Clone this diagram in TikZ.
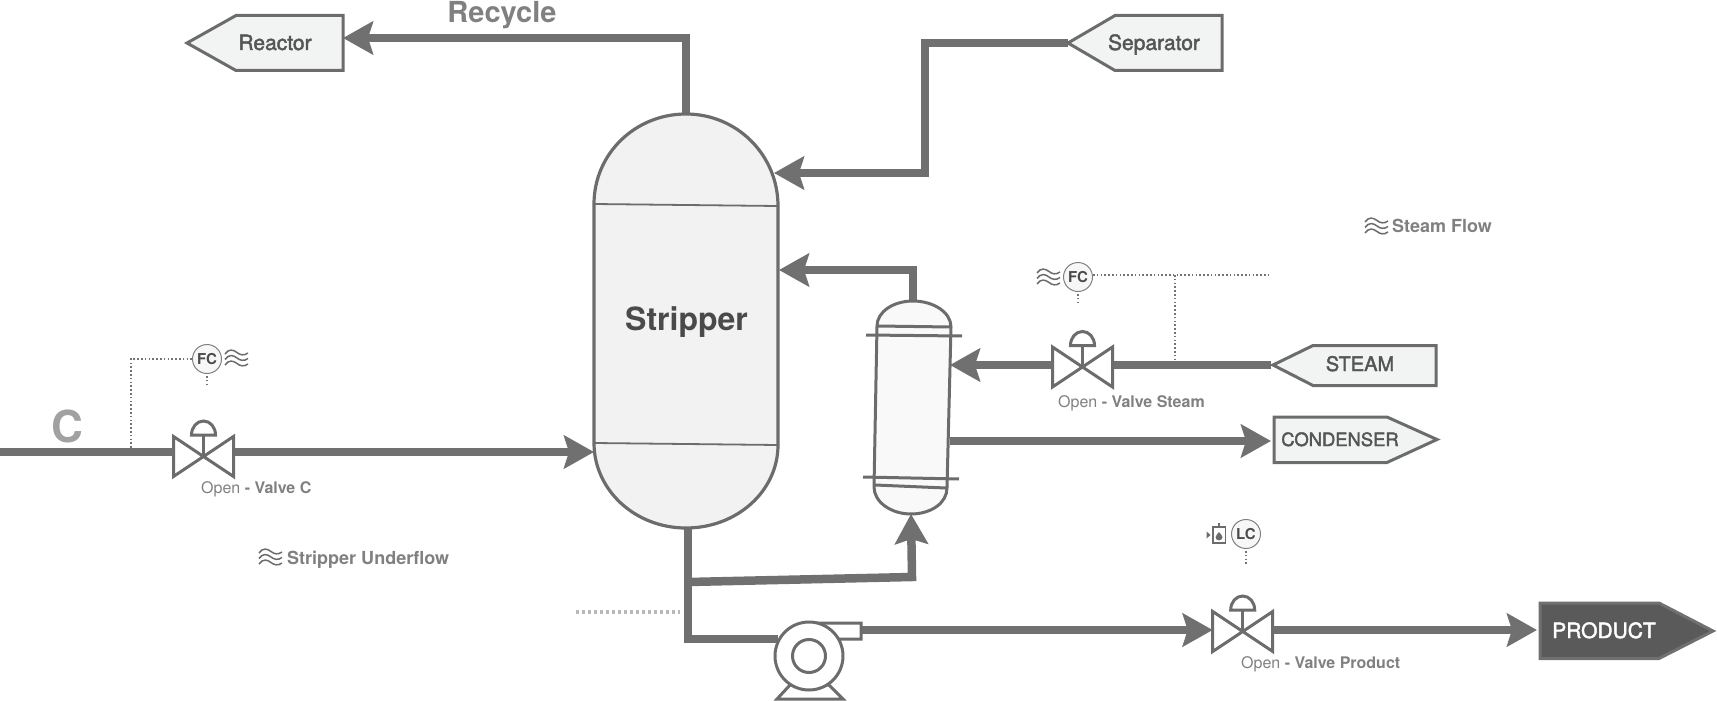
\documentclass[tikz,border=0pt]{standalone}
\usepackage{fontspec}
\setmainfont{TeX Gyre Heros}
\newfontfamily\medfont[FakeBold=2]{TeX Gyre Heros}
\usetikzlibrary{arrows.meta,calc}
\definecolor{pipecol}{HTML}{707070}
\definecolor{strokecol}{HTML}{6C6C6C}
\definecolor{vesselfill}{HTML}{F2F2F2}
\definecolor{condfill}{HTML}{F9F9F9}
\definecolor{boxfill}{HTML}{F2F4F3}
\definecolor{boxtext}{HTML}{555555}
\definecolor{darktext}{HTML}{4A4A4A}
\definecolor{labeltext}{HTML}{808080}
\definecolor{prodfill}{HTML}{5A5A5A}
\newcommand{\fsz}[1]{\fontsize{#1}{#1}\selectfont}
\tikzset{
  x=1pt,y=-1pt,
  pipeline/.style={draw=pipecol,line width=8.5pt,line join=miter,line cap=butt},
  flow/.style={pipeline,-{Stealth[length=30pt,width=33pt,inset=5pt]}},
  equip/.style={draw=strokecol,line width=3pt,line join=miter},
  boxshape/.style={equip,fill=boxfill},
  sig/.style={draw=labeltext!90!black,line width=1.5pt,dash pattern=on 1.6pt off 2.2pt},
  instr/.style={circle,draw=labeltext,line width=1pt,fill=black!3,minimum size=29pt,inner sep=0pt,text=darktext,font=\bfseries\fsz{15}},
  boxlabel/.style={anchor=base,inner sep=0pt,text=boxtext},
  status/.style={anchor=base west,inner sep=0pt,text=labeltext,font=\fsz{16}},
  caption/.style={anchor=base west,inner sep=0pt,text=labeltext,font=\bfseries\fsz{18}},
  valve/.pic={
    \path[equip,fill=white] (-30,-20) -- (30,20) -- (30,-20) -- (-30,20) -- cycle;
    \path[equip] (0,-21.5) -- (0,0);
    \path[equip,fill=white] (-12,-21.5) .. controls (-12,-29.5) and (-6.6,-35.5) .. (0,-35.5)
       .. controls (6.6,-35.5) and (12,-29.5) .. (12,-21.5) -- cycle;
    \coordinate (-left) at (-30,0);
    \coordinate (-right) at (31,0);
  },
  waves/.pic={
    \foreach \d in {-5.5,0,5.5}{
      \draw[strokecol,line width=1.5pt,yshift=-\d pt] (0,1.5) .. controls (4,-4) and (8,-3) .. (12,0)
        .. controls (15,2.5) and (19,3.5) .. (23,0.5);
    }
  },
  tank/.pic={
    \draw[strokecol,line width=1.6pt] (-6,-8) -- (-6,8) -- (6.5,8) -- (6.5,-8) -- cycle;
    \draw[strokecol,line width=1.6pt] (0,-8) -- (0,-12);
    \fill[strokecol] (0,-3) .. controls (1,-1) and (3.5,0) .. (3.5,2.2)
       .. controls (3.5,4.2) and (1.8,5.3) .. (0,5.3) .. controls (-1.8,5.3) and (-3.5,4.2) .. (-3.5,2.2)
       .. controls (-3.5,0) and (-1,-1) .. (0,-3) -- cycle;
    \fill[strokecol] (-12.5,-3.5) -- (-8.5,0) -- (-12.5,3.5) -- cycle;
  },
}
\begin{document}
\begin{tikzpicture}
\useasboundingbox (0,0) rectangle (1717,701);

% --- coordinates
\coordinate (cStart) at (0,452);
\coordinate (stripperIn) at (594,452);
\coordinate (stripperTop) at (686,114);
\coordinate (recycleCorner) at (686,38);
\coordinate (reactorPort) at (343,38);
\coordinate (sepPort) at (1068,43);
\coordinate (sepCorner1) at (925,43);
\coordinate (sepCorner2) at (925,173);
\coordinate (sepIn) at (774,173);
\coordinate (condTop) at (913,301);
\coordinate (condCorner) at (913,270);
\coordinate (stripperSide) at (779,270);
\coordinate (steamPort) at (1271,365);
\coordinate (condSteam) at (950,365);
\coordinate (condOut) at (950,441);
\coordinate (condenserPort) at (1271,441);
\coordinate (stripperBottom) at (688,528);
\coordinate (pumpCorner) at (688,639);
\coordinate (pumpIn) at (778,639);
\coordinate (branchStart) at (688,582);
\coordinate (branchCorner) at (912,577);
\coordinate (condBottom) at (911,514);
\coordinate (pumpOut) at (861,630);
\coordinate (productPort) at (1537,630);
\coordinate (tapC) at (131,448);
\coordinate (tapCTop) at (131,359);
\coordinate (tapSteam) at (1175,361);
\coordinate (tapSteamTop) at (1175,275);
\coordinate (sigEnd) at (1271,275);
\coordinate (fcOneEnd) at (207,385);
\coordinate (fcTwoEnd) at (1078,302);
\coordinate (lcEnd) at (1246,566);
\coordinate (dotsA) at (576,612);
\coordinate (dotsB) at (680,612);

% --- valves
\pic (vc) at (203.5,456.5) {valve};
\pic (vs) at (1082.5,367) {valve};
\pic (vp) at (1242.7,631.5) {valve};

% --- pipes
\draw[pipeline] (cStart) -- (vc-left |- cStart);
\draw[flow] (vc-right |- cStart) -- (stripperIn);
\draw[flow] (stripperTop) -- (recycleCorner) -- (reactorPort);
\draw[flow] (sepPort) -- (sepCorner1) -- (sepCorner2) -- (sepIn);
\draw[flow] (condTop) -- (condCorner) -- (stripperSide);
\draw[pipeline] (steamPort) -- (vs-right |- steamPort);
\draw[flow] (vs-left |- steamPort) -- (condSteam);
\draw[flow] (condOut) -- (condenserPort);
\draw[pipeline] (stripperBottom) -- (pumpCorner) -- (pumpIn);
\draw[flow] (branchStart) -- (branchCorner) -- (condBottom);
\draw[flow] (pumpOut) -- (vp-left |- pumpOut);
\draw[flow] (vp-right |- pumpOut) -- (productPort);
\draw[draw=black!28,line width=4pt,dash pattern=on 3pt off 3pt] (dotsA) -- (dotsB);

% --- stripper vessel
\path[draw=strokecol,line width=3.2pt,fill=vesselfill]
  (594,204) .. controls (594,154) and (635,114) .. (686,114)
  .. controls (737,114) and (778,155) .. (778,206)
  -- (778,445) .. controls (778,491) and (737,528) .. (686,528)
  .. controls (635,528) and (594,490) .. (594,443) -- cycle;
\draw[strokecol,line width=1.8pt] (594,204) -- (778,206);
\draw[strokecol,line width=1.8pt] (594,443) -- (778,445);
\node[anchor=base,inner sep=0pt,text=darktext,font=\bfseries\fsz{32}] (stripper) at (686.5,330) {Stripper};

% --- reboiler
\path[equip,fill=condfill]
  (877,326) .. controls (877,312) and (893,301) .. (913,301)
  .. controls (933,301) and (951,312) .. (951,327)
  -- (947,488) .. controls (947,503) and (931,514) .. (911,514)
  .. controls (891,514) and (874,502) .. (874,487) -- cycle;
\draw[equip] (877,326) -- (951,327);
\draw[equip] (866,335) -- (962,336);
\draw[equip] (863,477) -- (959,479);
\draw[equip] (875,485) -- (946,488);

% --- pump
\path[equip,fill=white] (790,685) -- (777,699) -- (843,699) -- (829,685) -- cycle;
\path[equip,fill=white] (809,623) -- (861,623) -- (861,639) -- (835,639) -- cycle;
\draw[equip,fill=white] (809,656) circle[radius=34];
\draw[equip,fill=white] (809,656) circle[radius=16.5];

% --- terminals
\path[boxshape] (187,43) -- (236,15.5) -- (343,15.5) -- (343,70.5) -- (236,70.5) -- cycle;
\node[boxlabel,font=\medfont\fsz{21}] (reactor) at (275,50) {Reactor};
\path[boxshape] (1068,43) -- (1115,15.5) -- (1222,15.5) -- (1222,70.5) -- (1115,70.5) -- cycle;
\node[boxlabel,font=\medfont\fsz{21}] (separator) at (1154,50) {Separator};
\path[boxshape] (1273,365) -- (1313,345.5) -- (1436,345.5) -- (1436,385.5) -- (1313,385.5) -- cycle;
\node[boxlabel,font=\medfont\fsz{20}] (steam) at (1360,371) {STEAM};
\path[boxshape] (1274,417) -- (1387,417) -- (1437,439.5) -- (1387,462.5) -- (1274,462.5) -- cycle;
\node[boxlabel,font=\medfont\fsz{18.4}] (condenser) at (1340,446) {CONDENSER};
\path[draw=pipecol,line width=3pt,fill=prodfill,line join=miter] (1540,603) -- (1659,603) -- (1713,631) -- (1659,658.5) -- (1540,658.5) -- cycle;
\node[boxlabel,text=white,font=\medfont\fsz{21}] (product) at (1604,638) {PRODUCT};

% --- instruments
\node[instr] (fcone) at (207,359) {FC};
\node[instr] (fctwo) at (1078,277) {FC};
\node[instr] (lc) at (1246,534) {LC};
\draw[sig] (fcone.west) -- (tapCTop) -- (tapC);
\draw[sig] (fcone.south) ++(0,2) -- (fcOneEnd);
\draw[sig] (fctwo.east |- tapSteamTop) -- (sigEnd);
\draw[sig] (tapSteamTop) -- (tapSteam);
\draw[sig] (fctwo.south) ++(0,2) -- (fcTwoEnd);
\draw[sig] (lc.south) ++(0,2) -- (lcEnd);
\pic at (225,358) {waves};
\pic at (1037,277) {waves};
\pic at (259,557) {waves};
\pic at (1365,226) {waves};
\pic at (1219,535) {tank};

% --- labels
\node[anchor=base,inner sep=0pt,text=labeltext,font=\bfseries\fsz{29}] (recycle) at (502,23) {Recycle};
\node[anchor=base,inner sep=0pt,text=black!37,font=\bfseries\fsz{44}] (cname) at (67,442) {C};
\node[status] (openc) at (201,493) {Open \textbf{- Valve C}};
\node[status] (opens) at (1058,407) {Open \textbf{- Valve Steam}};
\node[status] (openp) at (1241,668) {Open \textbf{- Valve Product}};
\node[caption] (under) at (287,564) {Stripper Underflow};
\node[caption] (steamflow) at (1392,232) {Steam Flow};
\end{tikzpicture}
\end{document}
